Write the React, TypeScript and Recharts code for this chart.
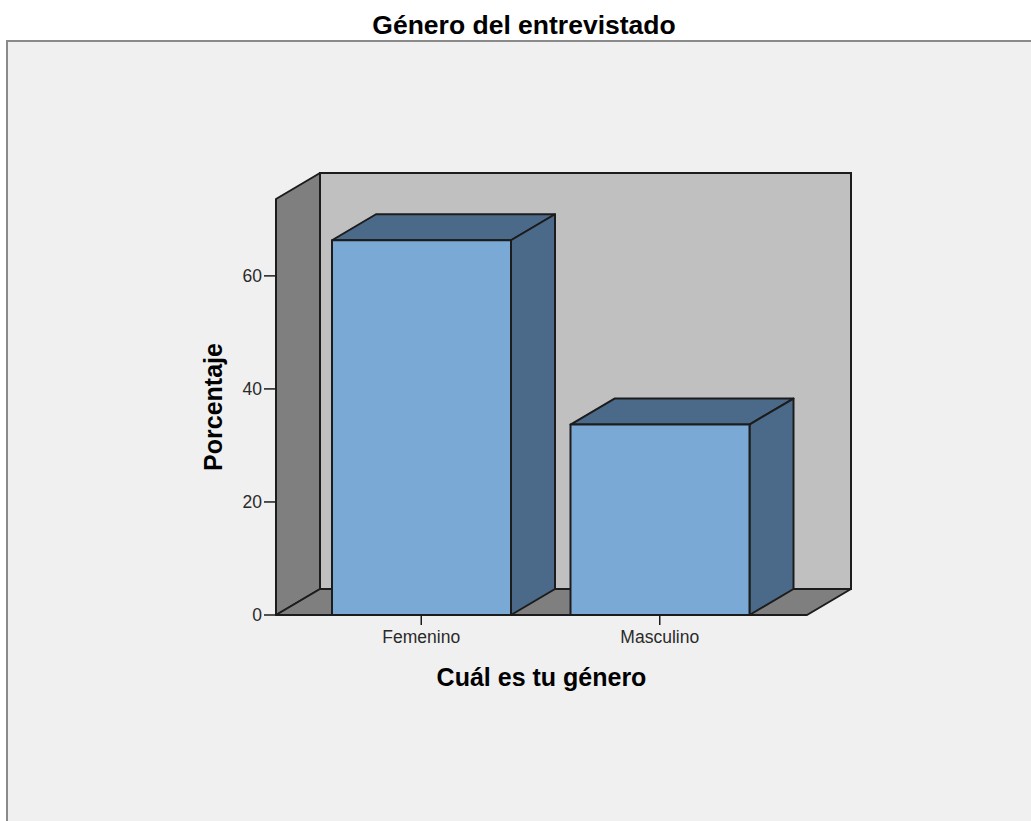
import * as RC from 'recharts';

const { BarChart, Bar, XAxis, YAxis, Customized } = RC;

// datos
const categories = ['Femenino', 'Masculino'];
const percentages = [66.3, 33.7];
const yTicks = [0, 20, 40, 60];

const data = categories.map((genero, i) => ({ genero, porcentaje: percentages[i] }));

const W = 1031;
const H = 821;
const MARGIN = { top: 199, right: 224, bottom: 146, left: 216 };
const Y_AXIS_W = 60;
const X_AXIS_H = 60;
const DX = 44;
const DY = -26;
const FONT = '"Liberation Sans", Arial, sans-serif';
const EDGE = '#1c1c1c';

const fallbackPlot = {
  x: MARGIN.left + Y_AXIS_W,
  y: MARGIN.top,
  width: W - MARGIN.left - Y_AXIS_W - MARGIN.right,
  height: H - MARGIN.top - MARGIN.bottom - X_AXIS_H,
};

const plotHook = (RC as any).usePlotArea;
const usePlot = () => {
  const area = typeof plotHook === 'function' ? plotHook() : null;
  return area && area.width ? area : fallbackPlot;
};

const pts = (list: number[][]) => list.map((p) => p.join(',')).join(' ');

const Walls = () => {
  const { x, y, width, height } = usePlot();
  const b = y + height;
  const r = x + width;
  return (
    <g>
      <rect x={7} y={41} width={W + 20} height={H + 20} fill='#f0f0f0' stroke='#8a8a8a' strokeWidth={2} />
      <rect x={x + DX} y={y + DY} width={width} height={height} fill='#c0c0c0' stroke={EDGE} strokeWidth={2} />
      <polygon points={pts([[x, b], [x, y], [x + DX, y + DY], [x + DX, b + DY]])} fill='#7f7f7f' stroke={EDGE} strokeWidth={2} strokeLinejoin='round' />
      <polygon points={pts([[x, b], [x + DX, b + DY], [r + DX, b + DY], [r, b]])} fill='#7f7f7f' stroke={EDGE} strokeWidth={2} strokeLinejoin='round' />
    </g>
  );
};

const Texts = () => {
  const { x, y, width, height } = usePlot();
  const cy = y + height / 2;
  const lx = x - 63;
  return (
    <g fontFamily={FONT} fontWeight='bold' fill='#000'>
      <text x={524} y={34} fontSize={26.5} textAnchor='middle'>Género del entrevistado</text>
      <text x={x + width / 2} y={y + height + 71} fontSize={25} textAnchor='middle'>Cuál es tu género</text>
      <text x={lx} y={cy} fontSize={25} textAnchor='middle' dominantBaseline='central' transform={`rotate(-90 ${lx} ${cy})`}>Porcentaje</text>
    </g>
  );
};

const Box3D = (props: any) => {
  const { x, y, width: w, height: h } = props;
  if (h == null || w == null) return null;
  return (
    <g stroke={EDGE} strokeWidth={2} strokeLinejoin='round'>
      <polygon points={pts([[x, y], [x + DX, y + DY], [x + w + DX, y + DY], [x + w, y]])} fill='#4b6a8a' />
      <polygon points={pts([[x + w, y], [x + w + DX, y + DY], [x + w + DX, y + h + DY], [x + w, y + h]])} fill='#4b6a8a' />
      <rect x={x} y={y} width={w} height={h} fill='#7ba9d6' />
    </g>
  );
};

export default function App() {
  return (
    <div style={{ position: 'absolute', left: 0, top: 0, width: W, height: H, background: '#fff' }}>
      <BarChart width={W} height={H} data={data} margin={MARGIN} style={{ fontFamily: FONT }}>
        <Customized component={<Walls />} />
        <XAxis
          dataKey='genero'
          height={X_AXIS_H}
          axisLine={false}
          tickSize={10}
          tickMargin={6}
          padding={{ left: 26, right: 28 }}
          tickLine={{ stroke: EDGE, strokeWidth: 1.5 }}
          tick={{ fontSize: 17.5, fill: '#2a2a2a', fontFamily: FONT }}
        />
        <YAxis
          width={Y_AXIS_W}
          domain={[0, 73.6]}
          ticks={yTicks}
          axisLine={false}
          tickSize={12}
          tickMargin={2}
          tickLine={{ stroke: EDGE, strokeWidth: 1.5 }}
          tick={{ fontSize: 17.5, fill: '#2a2a2a', fontFamily: FONT }}
        />
        <Bar dataKey='porcentaje' barSize={179} shape={(p: any) => <Box3D {...p} />} isAnimationActive={false} />
        <Customized component={<Texts />} />
      </BarChart>
    </div>
  );
}
